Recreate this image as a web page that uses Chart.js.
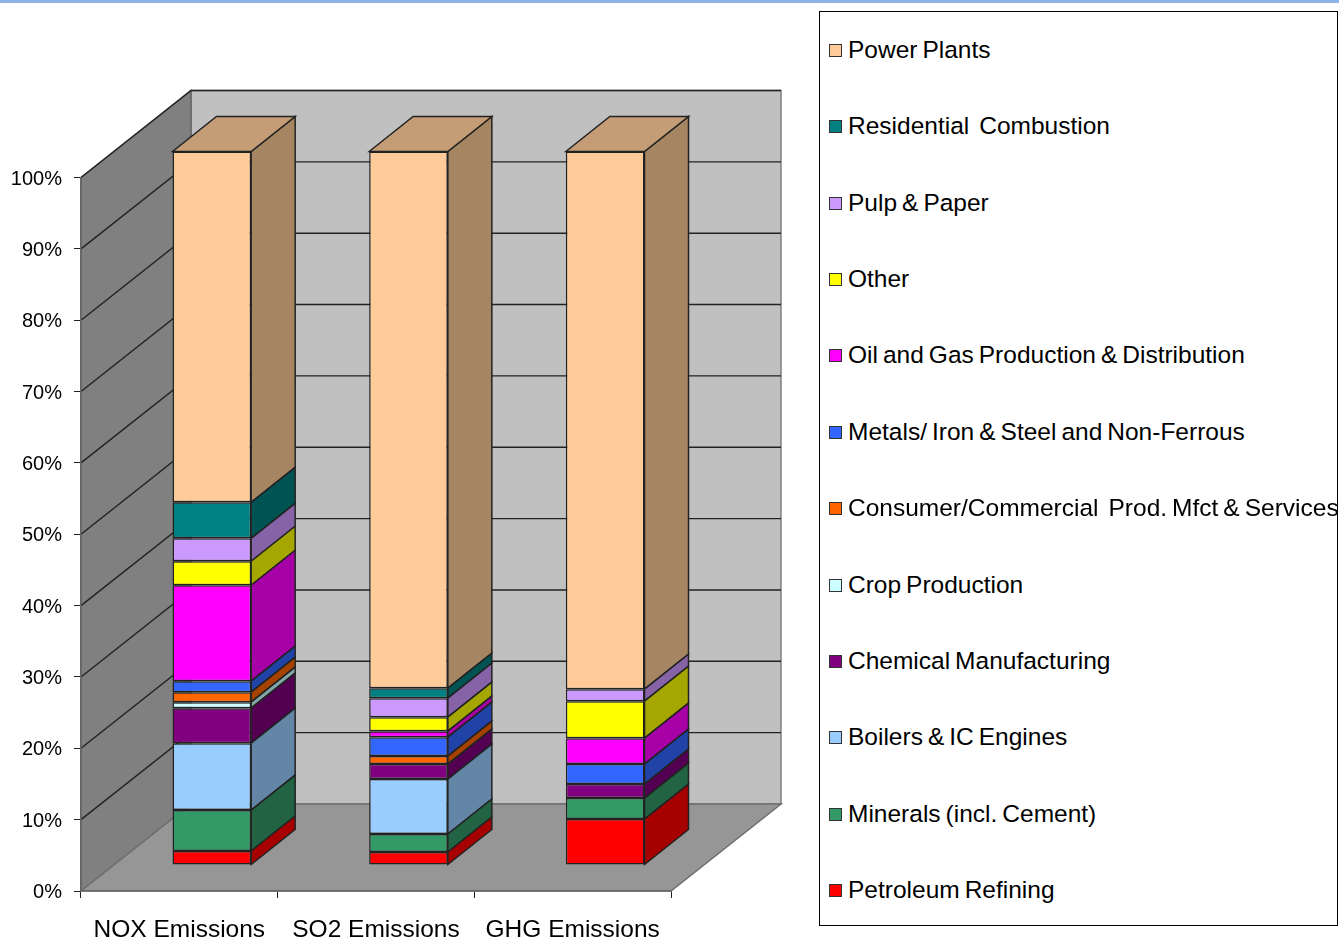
<!DOCTYPE html>
<html>
<head>
<meta charset="utf-8">
<title>Emissions by sector</title>
<script src="https://cdn.jsdelivr.net/npm/chart.js@4"></script>
<style>
  html, body { margin: 0; padding: 0; background: #fff; overflow: hidden; }
  #wrap { position: relative; width: 1339px; height: 939px; }
  #strip { position: absolute; left: 0; top: 0; width: 1339px; height: 3px; background: #8db4e6; }
  #myChart { position: absolute; left: 0; top: 0; }
  #legend {
    position: absolute; left: 819px; top: 11px; width: 517px; height: 913px;
    border: 1px solid #000; background: #fff;
    font-family: "Liberation Sans", Arial, sans-serif; font-size: 24.5px; word-spacing: -1.8px; color: #000;
  }
  .row { position: absolute; left: 9px; height: 28px; line-height: 28px; white-space: pre; }
  .swatch {
    position: absolute; left: 0; top: 8px; width: 11px; height: 11px;
    border: 1px solid #333;
  }
  .row span.txt { margin-left: 19px; }
</style>
</head>
<body>
<div id="wrap">
  <canvas id="myChart" width="1339" height="939"></canvas>
  <div id="strip"></div>
  <div id="legend"></div>
</div>
<script>
const categories = ["NOX Emissions", "SO2 Emissions", "GHG Emissions"];
const yTicks = [0, 10, 20, 30, 40, 50, 60, 70, 80, 90, 100];

const petroleum = [1.96, 1.82, 6.44];
const minerals = [5.74, 2.52, 2.94];
const boilers = [9.38, 7.7, 0];
const chemical = [4.9, 2.1, 1.96];
const crop = [0.84, 0, 0];
const consumer = [1.4, 1.12, 0];
const metals = [1.54, 2.66, 2.8];
const oilGas = [13.45, 0.84, 3.64];
const other = [3.36, 1.96, 5.18];
const pulp = [3.22, 2.66, 1.68];
const residential = [5.04, 1.4, 0];
const power = [49.17, 75.22, 75.36];

const seriesNames = [
  "Petroleum Refining",
  "Minerals (incl. Cement)",
  "Boilers & IC Engines",
  "Chemical Manufacturing",
  "Crop Production",
  "Consumer/Commercial  Prod. Mfct & Services",
  "Metals/ Iron & Steel and Non-Ferrous",
  "Oil and Gas Production & Distribution",
  "Other",
  "Pulp & Paper",
  "Residential  Combustion",
  "Power Plants",
];
const seriesValues = [petroleum, minerals, boilers, chemical, crop, consumer, metals, oilGas, other, pulp, residential, power];
const seriesColors = [
  "#ff0000", "#339966", "#99ccff", "#800080", "#ccffff", "#ff6600",
  "#3366ff", "#ff00ff", "#ffff00", "#cc99ff", "#008080", "#ffcc99",
];

// depth of the fake 3d box
const wallDx = 110, wallDy = -87;
const barDx = 32.5, barDy = -26;
const depthDx = 44, depthDy = -35;

function shade(hex, f) {
  const n = parseInt(hex.slice(1), 16);
  const r = Math.round(((n >> 16) & 255) * f);
  const g = Math.round(((n >> 8) & 255) * f);
  const b = Math.round((n & 255) * f);
  return `rgb(${r},${g},${b})`;
}

function poly(ctx, pts, fill, stroke, lw) {
  ctx.beginPath();
  pts.forEach((p, i) => (i ? ctx.lineTo(p[0], p[1]) : ctx.moveTo(p[0], p[1])));
  ctx.closePath();
  ctx.fillStyle = fill;
  ctx.fill();
  if (stroke) {
    ctx.strokeStyle = stroke;
    ctx.lineWidth = lw;
    ctx.stroke();
  }
}

const box3d = {
  id: "box3d",
  beforeDraw(chart) {
    const ctx = chart.ctx;
    const a = chart.chartArea;
    const yS = chart.scales.y;
    const l = a.left, r = a.right, t = a.top, b = a.bottom;
    ctx.save();
    // back wall, left wall, floor
    poly(ctx, [[l + wallDx, t + wallDy], [r + wallDx, t + wallDy], [r + wallDx, b + wallDy], [l + wallDx, b + wallDy]], "#c0c0c0", "#808080", 1.5);
    poly(ctx, [[l, t], [l + wallDx, t + wallDy], [l + wallDx, b + wallDy], [l, b]], "#808080", "#666", 1.5);
    poly(ctx, [[l, b], [l + wallDx, b + wallDy], [r + wallDx, b + wallDy], [r, b]], "#969696", "#6e6e6e", 1.5);
    // gridlines
    ctx.strokeStyle = "#222";
    ctx.lineWidth = 1.4;
    yTicks.forEach((v) => {
      const y = yS.getPixelForValue(v);
      ctx.beginPath();
      if (v > 0) {
        ctx.moveTo(l, y);
        ctx.lineTo(l + wallDx, y + wallDy);
        ctx.lineTo(r + wallDx, y + wallDy);
      }
      ctx.stroke();
    });
    ctx.restore();
  },
  beforeDatasetDraw(chart) {
    chart.ctx.save();
    chart.ctx.translate(barDx, barDy);
  },
  afterDatasetDraw(chart, args) {
    const ctx = chart.ctx;
    const color = seriesColors[args.index];
    const vals = seriesValues[args.index];
    args.meta.data.forEach((el, i) => {
      if (!vals[i]) return;
      const x = el.x + el.width / 2;
      poly(ctx, [[x, el.y], [x + depthDx, el.y + depthDy], [x + depthDx, el.base + depthDy], [x, el.base]], shade(color, 0.65), "#222", 1.5);
      if (args.index === seriesValues.length - 1) {
        const x0 = el.x - el.width / 2;
        poly(ctx, [[x0, el.y], [x0 + depthDx, el.y + depthDy], [x + depthDx, el.y + depthDy], [x, el.y]], shade(color, 0.77), "#222", 1.5);
      }
    });
    ctx.restore();
  },
};

const data = {
  labels: categories,
  datasets: seriesNames.map((name, i) => ({
    label: name,
    data: seriesValues[i],
    backgroundColor: seriesColors[i],
    borderColor: "#222",
    borderWidth: 1.5,
    borderSkipped: false,
    barPercentage: 0.4,
    categoryPercentage: 1,
    clip: false,
  })),
};

const config = {
  type: "bar",
  data: data,
  plugins: [box3d],
  options: {
    responsive: false,
    animation: false,
    devicePixelRatio: 1,
    layout: { padding: { left: 0, right: 668, top: 177.5, bottom: 0 } },
    scales: {
      x: {
        stacked: true,
        afterFit(scale) {
          scale.height = 48;
        },
        grid: { drawOnChartArea: false, tickLength: 7, color: "#222" },
        border: { color: "#666", width: 1.5 },
        ticks: {
          color: "#000",
          padding: 18,
          maxRotation: 0,
          font: { family: "'Liberation Sans', Arial, sans-serif", size: 24.5 },
        },
      },
      y: {
        stacked: true,
        min: 0,
        max: 100,
        afterFit(scale) {
          scale.width = 81;
        },
        grid: { drawOnChartArea: false, tickLength: 7, color: "#222" },
        border: { color: "#666", width: 1.5 },
        ticks: {
          stepSize: 10,
          color: "#000",
          padding: 12,
          labelOffset: 1.5,
          callback: (v) => v + "%",
          font: { family: "'Liberation Sans', Arial, sans-serif", size: 20 },
        },
      },
    },
    plugins: {
      legend: { display: false },
      tooltip: { enabled: false },
    },
  },
};

const myChart = new Chart(document.getElementById("myChart"), config);

// legend list, top row is the last series
const legendEl = document.getElementById("legend");
seriesNames.slice().reverse().forEach((name, i) => {
  const color = seriesColors[seriesColors.length - 1 - i];
  const row = document.createElement("div");
  row.className = "row";
  row.style.top = 24 + i * 76.36 + "px";
  const sw = document.createElement("span");
  sw.className = "swatch";
  sw.style.background = color;
  const txt = document.createElement("span");
  txt.className = "txt";
  txt.textContent = name;
  row.appendChild(sw);
  row.appendChild(txt);
  legendEl.appendChild(row);
});
</script>
</body>
</html>
